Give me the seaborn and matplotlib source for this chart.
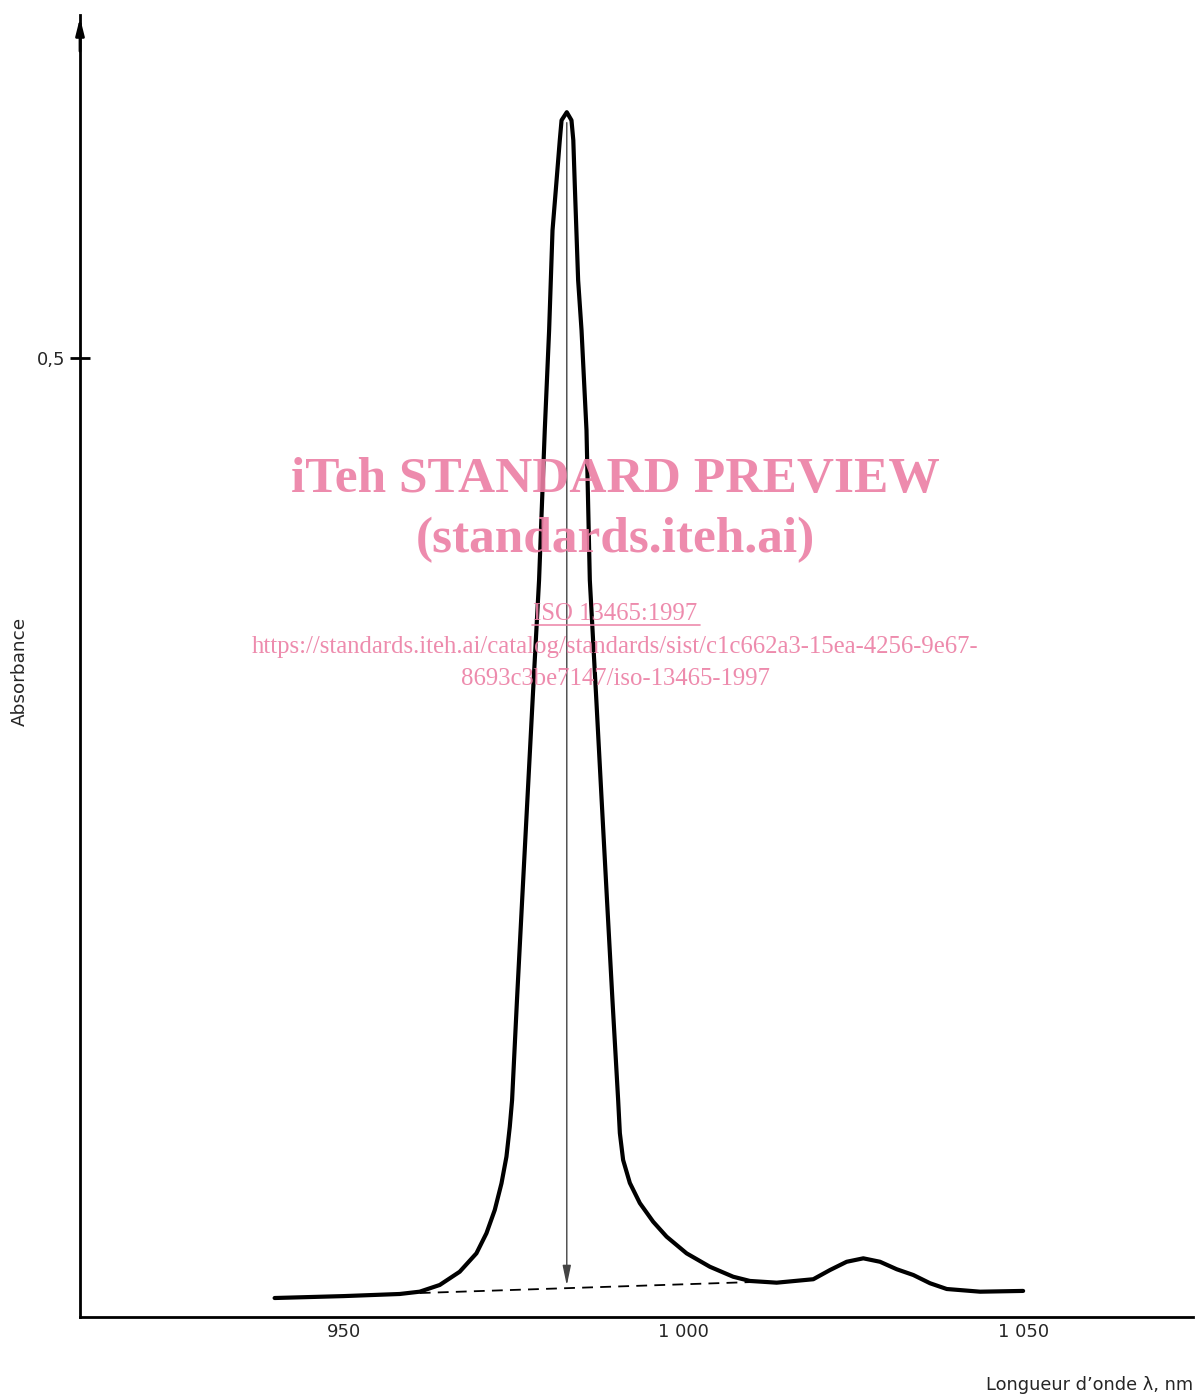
import numpy as np
import pandas as pd
import matplotlib.pyplot as plt
import seaborn as sns

# --- spectrum (wavelength in nm, absorbance) ---
wavelength = [939.84, 950.0, 958.25, 961.19, 964.14, 967.08, 969.54, 971.02, 972.24, 973.23,
              973.96, 974.45, 974.79, 975.51, 976.27, 977.04, 977.81, 978.76, 979.60, 980.24,
              980.74, 981.22, 981.81, 982.07, 982.84, 983.53, 983.80, 984.02, 984.51, 985.01,
              985.74, 986.23, 987.19, 987.97, 988.76, 989.56, 990.40, 990.65, 991.13, 992.12,
              993.59, 995.55, 997.53, 1000.47, 1003.90, 1007.33, 1009.79, 1013.73, 1019.12, 1021.58,
              1024.03, 1026.48, 1028.94, 1031.40, 1033.84, 1036.30, 1038.76, 1043.67, 1050.0]
absorbance = [0.0099, 0.0109, 0.0120, 0.0132, 0.0167, 0.0236, 0.0332, 0.0437, 0.0558, 0.0697,
              0.0836, 0.0992, 0.1131, 0.1653, 0.2174, 0.2696, 0.3217, 0.3843, 0.4625, 0.5146,
              0.5667, 0.5876, 0.6137, 0.6241, 0.6283, 0.6241, 0.6137, 0.5902, 0.5407, 0.5146,
              0.4625, 0.3843, 0.3217, 0.2696, 0.2174, 0.1653, 0.1131, 0.0959, 0.0819, 0.0699,
              0.0594, 0.0497, 0.0419, 0.0332, 0.0262, 0.0210, 0.0188, 0.0179, 0.0197, 0.0245,
              0.0288, 0.0306, 0.0288, 0.0249, 0.0219, 0.0176, 0.0146, 0.0132, 0.0136]

# baseline drawn under the main peak, and the peak position
baseline_x = [961.2, 1009.8]
baseline_y = [0.0125, 0.0182]
peak_x = 982.84
peak_y = 0.6283
peak_base_y = 0.0150

xtick_values = [950, 1000, 1050]
xtick_labels = ['950', '1 000', '1 050']
ytick_values = [0.5]
ytick_labels = ['0,5']

spectrum = pd.DataFrame({'wavelength': wavelength, 'absorbance': absorbance})

sns.set_style('white')
plt.rcParams['font.family'] = ['DejaVu Sans']

fig = plt.figure(figsize=(12, 13.96), dpi=100)
ax = fig.add_axes([80 / 1200, 1 - 1317 / 1396, (1193 - 80) / 1200, (1317 - 15) / 1396])

sns.lineplot(data=spectrum, x='wavelength', y='absorbance', sort=False, estimator=None,
             color='black', linewidth=3, ax=ax)
ax.lines[-1].set_solid_joinstyle('round')
ax.lines[-1].set_solid_capstyle('round')

# dashed baseline
ax.plot(baseline_x, baseline_y, color='black', linestyle=(0, (6, 4)), linewidth=1.3)

# peak height arrow
ax.annotate('', xy=(peak_x, peak_base_y), xytext=(peak_x, peak_y - 0.004),
            arrowprops=dict(arrowstyle='-|>,head_length=1.2,head_width=0.25',
                            color='#444444', lw=1))

ax.set_xlim(911.2, 1075)
ax.set_ylim(0, 0.679)

ax.set_xticks(xtick_values)
ax.set_xticklabels(xtick_labels, fontsize=13)
ax.set_yticks(ytick_values)
ax.set_yticklabels(ytick_labels, fontsize=13)
ax.tick_params(axis='x', bottom=False, length=0, pad=4)
ax.tick_params(axis='y', left=True, length=15, width=2, color='black', direction='inout', pad=3)
ax.set_xlabel('')
ax.set_ylabel('')

for side in ['top', 'right']:
    ax.spines[side].set_visible(False)
for side in ['left', 'bottom']:
    ax.spines[side].set_linewidth(2)
    ax.spines[side].set_color('black')

# arrow head on top of y axis
ax.annotate('', xy=(0, 1.0), xycoords='axes fraction', xytext=(0, 0.97),
            arrowprops=dict(arrowstyle='-|>,head_length=1.0,head_width=0.25',
                            color='black', lw=2), annotation_clip=False)

fig.text(1193 / 1200, 1 - 1385 / 1396, 'Longueur d\u2019onde \u03bb, nm', ha='right', va='center', fontsize=12.8)
fig.text(20 / 1200, 1 - 671 / 1396, 'Absorbance', rotation=90, ha='center', va='center', fontsize=13.3)

# watermark
pink = '#ec7fa4'
fig.text(615 / 1200, 1 - 480 / 1396, 'iTeh STANDARD PREVIEW', ha='center', va='center',
         fontsize=37, fontweight='bold', family='Liberation Serif', color=pink, alpha=0.9)
fig.text(615 / 1200, 1 - 540 / 1396, '(standards.iteh.ai)', ha='center', va='center',
         fontsize=37, fontweight='bold', family='Liberation Serif', color=pink, alpha=0.9)
fig.text(615 / 1200, 1 - 614 / 1396, 'ISO 13465:1997', ha='center', va='center',
         fontsize=17.8, family='Liberation Serif', color=pink, alpha=0.9)
fig.text(615 / 1200, 1 - 647 / 1396, 'https://standards.iteh.ai/catalog/standards/sist/c1c662a3-15ea-4256-9e67-',
         ha='center', va='center', fontsize=17.8, family='Liberation Serif', color=pink, alpha=0.9)
fig.text(615 / 1200, 1 - 679 / 1396, '8693c3be7147/iso-13465-1997', ha='center', va='center',
         fontsize=17.8, family='Liberation Serif', color=pink, alpha=0.9)
fig.lines.append(plt.Line2D([532 / 1200, 700 / 1200], [1 - 625 / 1396, 1 - 625 / 1396],
                            transform=fig.transFigure, color=pink, lw=1.2, alpha=0.9))

fig.savefig('out.png', dpi=100)
